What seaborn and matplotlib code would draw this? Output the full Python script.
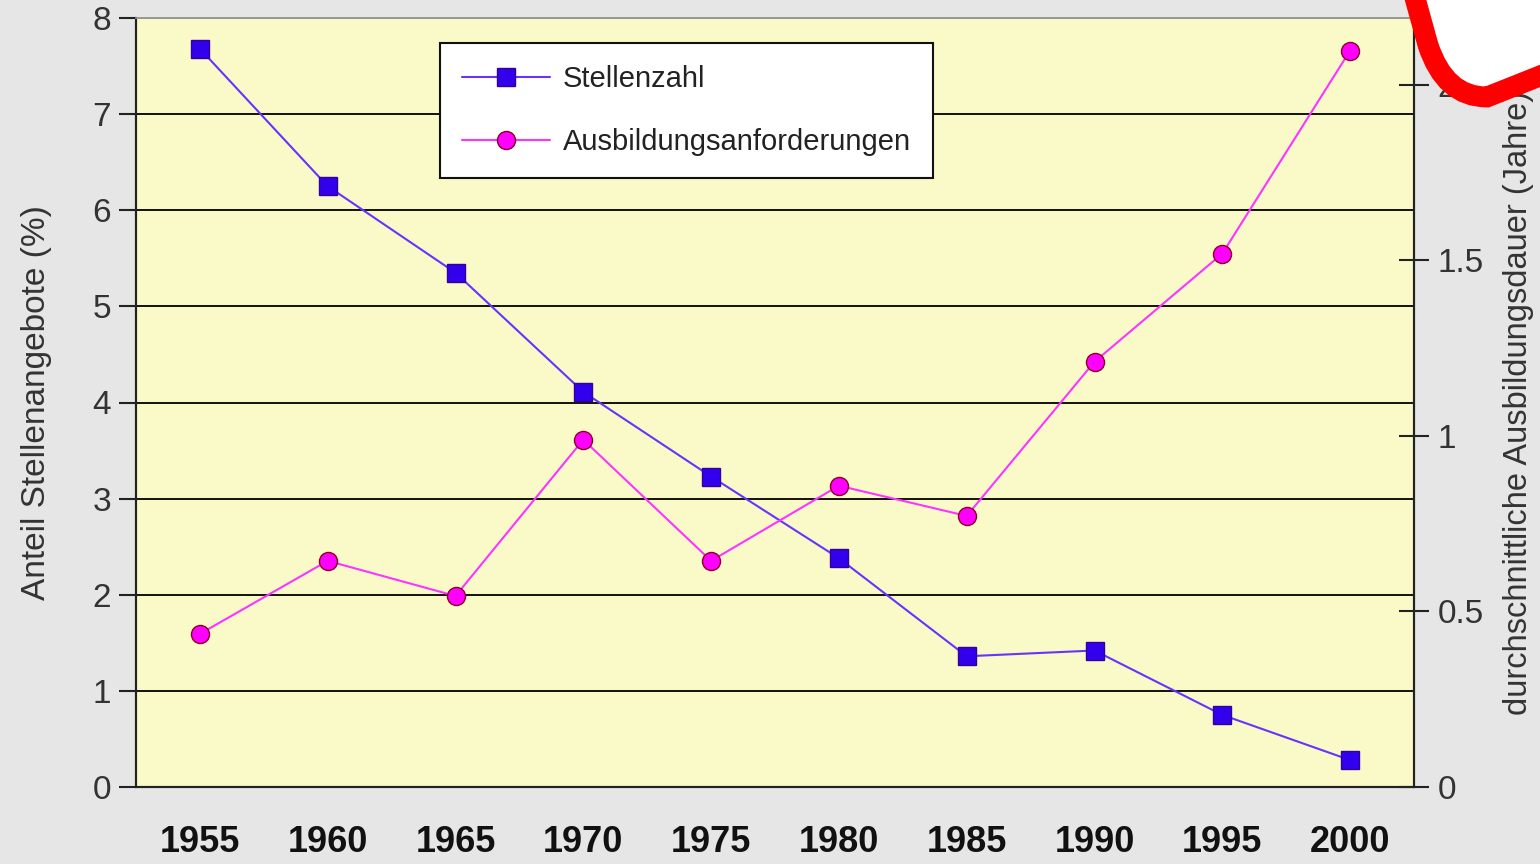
import numpy as np
import pandas as pd
import seaborn as sns
import matplotlib.pyplot as plt
from matplotlib.path import Path
from matplotlib.patches import PathPatch
from matplotlib.lines import Line2D

# Daten
jahre = ['1955', '1960', '1965', '1970', '1975', '1980', '1985', '1990', '1995', '2000']
stellenzahl = [7.68, 6.25, 5.35, 4.11, 3.23, 2.38, 1.36, 1.42, 0.75, 0.28]
ausbildung = [0.436, 0.644, 0.544, 0.989, 0.644, 0.858, 0.772, 1.211, 1.519, 2.097]

df = pd.DataFrame({'pos': np.arange(len(jahre)), 'jahr': jahre,
                   'stellen': stellenzahl, 'ausb': ausbildung})

sns.set_style('white')
plt.rcParams['font.family'] = ['Liberation Sans', 'DejaVu Sans']

fig = plt.figure(figsize=(15.4, 8.64), dpi=100, facecolor='#e6e6e6')
ax = fig.add_axes([136 / 1540, 1 - 787 / 864, (1414 - 136) / 1540, (787 - 18) / 864])
ax.set_facecolor('#fafac8')
ax2 = ax.twinx()

blau = '#6633ff'
pink = '#ff33ff'

sns.lineplot(data=df, x='pos', y='stellen', ax=ax, color=blau, lw=1.5,
             marker='s', markersize=13, markerfacecolor='#3300ee',
             markeredgecolor='#330099', markeredgewidth=1, zorder=5)
sns.lineplot(data=df, x='pos', y='ausb', ax=ax2, color=pink, lw=1.5,
             marker='o', markersize=13, markerfacecolor='#ff00ff',
             markeredgecolor='#880022', markeredgewidth=1, zorder=5)

ax.set_xlim(-0.5, len(jahre) - 0.5)
ax.set_ylim(0, 8)
ax2.set_ylim(0, 2.19)

# Kategorieachse: Striche an den Grenzen, Beschriftungen in der Mitte
ax.set_xticks(np.arange(-0.5, len(jahre), 1.0))
ax.set_xticklabels([])
ax.set_xticks(df['pos'], minor=True)
ax.set_xticklabels(jahre, minor=True, fontsize=26, fontweight='bold', color='#111111')
ax.tick_params(axis='x', which='major', direction='out', length=12, width=1.5, color='#222222')
ax.tick_params(axis='x', which='minor', length=0, pad=27)

ax.set_yticks(range(0, 9))
ax.tick_params(axis='y', direction='out', length=12, width=1.5, labelsize=24,
               color='#222222', labelcolor='#333333', pad=6)
ax.yaxis.grid(True, color='black', lw=1.3)
ax.set_axisbelow(True)

ax2.set_yticks([0, 0.5, 1, 1.5, 2])
ax2.set_yticklabels(['0', '0.5', '1', '1.5', '2'])
ax2.tick_params(axis='y', direction='inout', length=22, width=1.5, labelsize=24,
                color='#222222', labelcolor='#333333', pad=6)
ax2.grid(False)

for a in (ax, ax2):
    a.spines['top'].set_color('#999999')
    a.spines['top'].set_linewidth(1.2)
    for s in ('left', 'right', 'bottom'):
        a.spines[s].set_color('#222222')
        a.spines[s].set_linewidth(1.5)

ax.set_xlabel('')
ax2.set_ylabel('')
ax.set_ylabel('Anteil Stellenangebote (%)', fontsize=24, color='#333333')
ax.yaxis.set_label_coords(-0.066, 0.5)
fig.text(1519 / 1540, 1 - 715 / 864, 'durchschnittliche Ausbildungsdauer (Jahre)',
         rotation=90, ha='center', va='bottom', fontsize=23.5, color='#333333')

handles = [
    Line2D([], [], color=blau, lw=1.5, marker='s', markersize=13,
           markerfacecolor='#3300ee', markeredgecolor='#330099'),
    Line2D([], [], color=pink, lw=1.5, marker='o', markersize=13,
           markerfacecolor='#ff00ff', markeredgecolor='#880022'),
]
leg = ax2.legend(handles, ['Stellenzahl', 'Ausbildungsanforderungen'],
                 loc='upper left', bbox_to_anchor=(0.238, 0.967), fontsize=21,
                 frameon=True, fancybox=False, framealpha=1, edgecolor='#111111',
                 handlelength=3.0, borderpad=0.75, labelspacing=1.2, handletextpad=0.45,
                 borderaxespad=0)
leg.get_frame().set_linewidth(1.5)
for t in leg.get_texts():
    t.set_color('#222222')

# rote Markierung oben rechts
pts = [(1410, -20), (1428, 45), (1445, 97), (1487, 97), (1560, 68), (1560, -20), (1410, -20)]
codes = [Path.MOVETO, Path.LINETO, Path.CURVE3, Path.CURVE3, Path.LINETO, Path.LINETO, Path.CLOSEPOLY]
verts = [(x / 1540, 1 - y / 864) for x, y in pts]
fig.add_artist(PathPatch(Path(verts, codes), facecolor='white', edgecolor='#ff0000',
                         lw=15, transform=fig.transFigure, zorder=20))

fig.savefig('out.png', dpi=100, facecolor=fig.get_facecolor())
